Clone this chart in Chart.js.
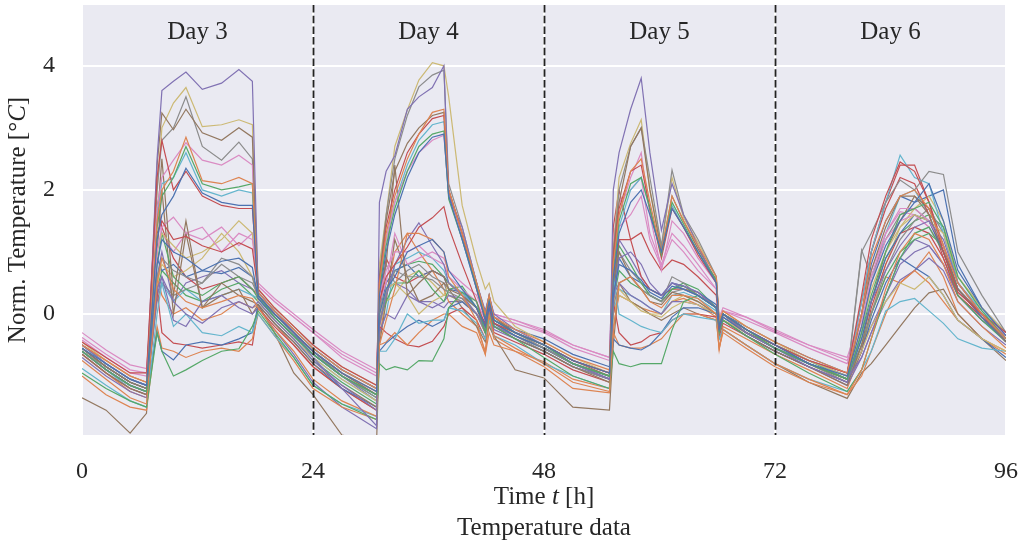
<!DOCTYPE html>
<html>
<head>
<meta charset="utf-8">
<script src="https://cdn.jsdelivr.net/npm/chart.js@4.4.0/dist/chart.umd.min.js"></script>
<style>
  html, body { margin: 0; padding: 0; background: #fff; }
  canvas { display: block; }
</style>
</head>
<body>
<canvas id="tempChart" width="1025" height="547"></canvas>
<script>
// sample times (h) shared by every sensor curve
const hours = [0, 2.5, 5, 6.7, 7.8, 8.3, 9.5, 10.8, 12.5, 14.5, 16.3, 17.7, 18.3, 20, 22, 24, 27, 30.6,
  30.9, 31.6, 32.5, 33.8, 35, 36.4, 37.6, 38.1, 39.5, 41, 41.9, 42.3, 42.8, 45, 48, 51, 54.8,
  55.2, 55.8, 57, 58.1, 59, 60.2, 61.3, 62.5, 64, 65.9, 66.2, 66.6, 69, 72, 75.5, 79.5,
  81, 82, 83.5, 85, 86.5, 88, 89.5, 91, 93.5, 96];

const dayLabels = ['Day 3', 'Day 4', 'Day 5', 'Day 6'];
const dayBreaks = [24, 48, 72];
const xTicks = [0, 24, 48, 72, 96];
const yTicks = [0, 2, 4];

// normalised temperature per sensor, one value per entry of hours
const s00 = [-0.55, -0.8, -1.05, -1.15, 1.2, 1.6, 1.9, 2.35, 1.95, 1.8, 1.75, 1.75, 0.3, 0.0, -0.3, -0.6, -0.95, -1.25,
  0.3, 1.0, 1.6, 2.2, 2.6, 2.85, 2.9, 1.9, 1.2, 0.4, -0.1, 0.2, -0.1, -0.3, -0.5, -0.75, -0.95,
  0.6, 1.3, 1.8, 2.0, 1.6, 1.0, 1.7, 1.4, 1.0, 0.5, -0.2, 0.0, -0.25, -0.5, -0.8, -1.0,
  -0.2, 0.5, 1.1, 1.5, 1.8, 2.1, 1.5, 0.7, 0.1, -0.35];
const s01 = [-0.5, -0.75, -1.0, -1.1, 1.5, 2.0, 2.3, 2.85, 2.15, 2.1, 2.2, 2.1, 0.35, 0.05, -0.25, -0.55, -0.9, -1.2,
  0.5, 1.3, 1.9, 2.5, 2.9, 3.25, 3.3, 2.0, 1.3, 0.5, 0.0, 0.3, -0.05, -0.25, -0.45, -0.7, -0.9,
  0.8, 1.6, 2.3, 2.5, 1.8, 1.0, 1.9, 1.5, 1.1, 0.6, -0.1, 0.05, -0.2, -0.45, -0.7, -0.95,
  0.0, 0.9, 1.5, 1.9, 2.0, 1.7, 1.1, 0.5, 0.0, -0.4];
const s02 = [-0.6, -0.9, -1.15, -1.25, 1.4, 1.9, 2.2, 2.7, 2.1, 2.0, 2.05, 2.1, 0.3, -0.05, -0.35, -0.65, -1.0, -1.3,
  0.4, 1.1, 1.7, 2.3, 2.7, 2.9, 2.95, 1.85, 1.2, 0.45, -0.05, 0.25, -0.1, -0.3, -0.5, -0.8, -1.0,
  0.7, 1.5, 2.1, 2.2, 1.7, 0.95, 1.8, 1.45, 1.0, 0.55, -0.15, 0.0, -0.25, -0.55, -0.8, -1.05,
  -0.3, 0.3, 1.0, 1.6, 1.7, 1.8, 1.4, 0.6, 0.05, -0.4];
const s03 = [-0.45, -0.7, -0.95, -0.95, 2.2, 2.8, 2.0, 2.3, 1.9, 1.75, 1.7, 1.7, 0.4, 0.1, -0.2, -0.5, -0.85, -1.15,
  0.5, 1.4, 2.0, 2.6, 2.9, 3.15, 3.2, 2.0, 1.3, 0.4, -0.1, 0.2, -0.15, -0.3, -0.5, -0.75, -0.95,
  0.9, 1.7, 2.3, 2.4, 1.7, 0.9, 1.7, 1.4, 0.95, 0.5, -0.2, 0.0, -0.25, -0.5, -0.75, -0.95,
  0.3, 1.2, 1.9, 2.45, 2.3, 1.8, 1.0, 0.35, 0.0, -0.3];
const s04 = [-0.5, -0.8, -1.05, -1.15, 2.5, 3.6, 3.75, 3.9, 3.62, 3.72, 3.94, 3.75, 0.35, 0.05, -0.3, -0.7, -1.2, -1.8,
  1.8, 2.3, 2.55, 3.3, 3.5, 3.65, 4.0, 1.9, 1.4, 0.5, 0.05, 0.3, 0.0, -0.25, -0.5, -0.8, -1.05,
  2.0, 2.6, 3.3, 3.8, 2.6, 1.35, 2.1, 1.6, 1.1, 0.5, -0.2, 0.0, -0.3, -0.55, -0.85, -1.1,
  -0.3, 0.2, 0.7, 1.1, 1.4, 1.5, 1.2, 0.5, 0.0, -0.4];
const s05 = [-0.55, -0.85, -1.1, -1.2, 2.4, 3.24, 2.97, 3.3, 2.92, 2.8, 3.0, 2.85, 0.3, 0.0, -0.3, -0.6, -0.95, -1.3,
  0.6, 1.5, 2.3, 2.75, 3.0, 3.2, 3.25, 2.0, 1.3, 0.5, 0.0, 0.3, -0.05, -0.3, -0.5, -0.75, -1.0,
  1.0, 1.8, 2.7, 3.0, 2.0, 1.0, 1.9, 1.5, 1.05, 0.55, -0.15, 0.0, -0.3, -0.5, -0.8, -1.05,
  0.0, 0.7, 1.4, 1.9, 1.9, 1.6, 1.0, 0.4, 0.0, -0.45];
const s06 = [-0.38, -0.65, -0.9, -0.95, 1.7, 2.2, 2.48, 2.76, 2.48, 2.4, 2.56, 2.4, 0.45, 0.2, -0.05, -0.3, -0.65, -0.95,
  0.5, 1.2, 1.8, 2.3, 2.6, 2.8, 2.88, 1.9, 1.25, 0.5, 0.0, 0.25, -0.05, -0.15, -0.3, -0.55, -0.75,
  0.9, 1.6, 2.2, 2.6, 1.6, 0.7, 1.5, 1.3, 0.9, 0.5, -0.1, 0.05, -0.1, -0.3, -0.55, -0.8,
  -0.1, 0.6, 1.3, 1.7, 1.7, 1.5, 1.1, 0.5, 0.0, -0.35];
const s07 = [-0.6, -0.85, -1.1, -1.2, 2.0, 2.8, 3.0, 3.5, 2.7, 2.48, 2.77, 2.5, 0.3, 0.0, -0.3, -0.6, -1.0, -1.3,
  0.6, 1.6, 2.5, 3.2, 3.66, 3.85, 3.93, 2.1, 1.4, 0.5, 0.0, 0.3, -0.05, -0.3, -0.55, -0.8, -1.05,
  1.0, 2.0, 2.7, 3.0, 2.2, 1.1, 2.32, 1.6, 1.2, 0.6, -0.15, 0.0, -0.3, -0.55, -0.8, -1.05,
  1.0, 1.3, 1.8, 2.16, 2.0, 2.3, 2.25, 1.0, 0.3, -0.3];
const s08 = [-0.45, -0.75, -1.0, -1.1, 2.0, 3.0, 3.4, 3.65, 3.02, 3.05, 3.13, 3.05, 0.4, 0.1, -0.2, -0.5, -0.85, -1.15,
  0.8, 1.6, 2.7, 3.29, 3.77, 4.05, 4.0, 3.5, 1.75, 0.85, 0.4, 0.5, 0.2, -0.2, -0.45, -0.7, -0.95,
  1.0, 2.2, 2.75, 3.13, 2.0, 1.08, 2.2, 1.55, 1.15, 0.6, -0.1, 0.05, -0.2, -0.45, -0.75, -1.0,
  -0.2, 0.4, 1.0, 1.4, 1.6, 1.5, 1.3, 0.6, 0.1, -0.3];
const s09 = [-0.5, -0.8, -1.05, -1.15, 1.6, 2.1, 2.2, 2.6, 2.0, 1.9, 2.0, 1.95, 0.35, 0.05, -0.25, -0.55, -0.9, -1.2,
  0.4, 1.2, 1.8, 2.4, 2.8, 3.05, 3.1, 1.95, 1.2, 0.4, -0.05, 0.25, -0.1, -0.3, -0.5, -0.75, -0.95,
  0.7, 1.4, 2.0, 2.2, 1.7, 0.95, 1.75, 1.4, 1.0, 0.5, -0.15, 0.0, -0.25, -0.5, -0.75, -1.0,
  0.2, 1.0, 1.8, 2.56, 2.2, 2.1, 1.3, 0.5, 0.05, -0.3];
const s10 = [-0.55, -0.85, -1.1, -1.2, 0.8, 1.2, 1.0, 0.9, 0.7, 0.85, 0.9, 0.75, 0.25, -0.05, -0.35, -0.65, -1.0, -1.3,
  0.0, 0.4, 0.6, 1.0, 1.1, 1.2, 1.0, 0.7, 0.4, 0.1, -0.2, 0.1, -0.15, -0.35, -0.55, -0.8, -1.0,
  0.3, 0.8, 0.7, 0.55, 0.35, 0.25, 0.45, 0.4, 0.3, 0.1, -0.25, -0.05, -0.3, -0.55, -0.8, -1.05,
  -0.4, 0.2, 0.9, 1.3, 1.6, 1.5, 1.0, 0.4, -0.05, -0.45];
const s11 = [-0.75, -1.05, -1.35, -1.45, 0.5, 0.9, 0.4, 0.2, 0.1, 0.2, 0.3, 0.25, 0.1, -0.25, -0.6, -1.05, -1.4, -1.65,
  -0.5, -0.1, 0.4, 1.3, 1.3, 1.2, 1.0, 0.6, 0.3, -0.1, -0.65, 0.0, -0.35, -0.55, -0.8, -1.1, -1.25,
  -0.3, 0.5, 0.6, 0.4, 0.2, 0.1, 0.3, 0.3, 0.25, 0.0, -0.55, -0.25, -0.5, -0.8, -1.05, -1.3,
  -0.9, -0.4, 0.4, 1.0, 1.3, 1.2, 0.8, 0.2, -0.2, -0.55];
const s12 = [-0.95, -1.2, -1.4, -1.5, -0.3, -0.6, -1.0, -0.9, -0.75, -0.6, -0.56, -0.2, 0.05, -0.3, -0.7, -1.15, -1.45, -1.7,
  -0.8, -0.9, -0.85, -0.9, -0.75, -0.76, -0.4, 0.1, 0.35, 0.2, -0.3, 0.0, -0.2, -0.4, -0.7, -1.0, -1.2,
  -0.6, -0.8, -0.85, -0.8, -0.8, -0.8, -0.26, 0.2, 0.3, 0.1, -0.3, -0.1, -0.35, -0.65, -0.95, -1.25,
  -0.9, -0.4, 0.3, 0.9, 1.3, 1.4, 1.0, 0.3, -0.1, -0.45];
const s13 = [-0.5, -0.75, -1.0, -1.1, 1.3, 1.5, 1.2, 1.25, 1.1, 1.0, 1.15, 1.05, 0.35, 0.05, -0.25, -0.55, -0.9, -1.2,
  0.2, 0.6, 0.8, 1.08, 1.4, 1.55, 1.73, 1.4, 0.8, 0.2, -0.2, 0.1, -0.1, -0.3, -0.5, -0.75, -0.95,
  0.6, 1.2, 1.2, 1.31, 1.0, 0.7, 0.87, 0.8, 0.6, 0.3, -0.2, 0.0, -0.25, -0.5, -0.75, -0.95,
  0.2, 1.0, 1.7, 2.2, 2.1, 1.6, 0.9, 0.3, -0.05, -0.35];
const s14 = [-0.6, -0.9, -1.15, -1.25, 0.4, 0.6, 0.2, 0.0, -0.15, 0.1, 0.2, 0.1, 0.2, -0.1, -0.4, -0.75, -1.15, -1.55,
  -0.2, 0.3, 0.8, 1.2, 1.47, 1.1, 0.8, 0.5, 0.3, 0.0, -0.25, 0.05, -0.2, -0.35, -0.55, -0.8, -1.05,
  0.2, 0.9, 1.0, 0.8, 0.5, 0.3, 0.5, 0.45, 0.35, 0.1, -0.25, -0.05, -0.3, -0.55, -0.8, -1.05,
  -0.7, -0.3, 0.3, 0.8, 1.0, 1.1, 0.8, 0.3, -0.1, -0.4];
const s15 = [-0.65, -0.95, -1.2, -1.3, 1.5, 2.5, 0.3, 1.5, 0.1, 0.5, 0.3, 0.2, 0.15, -0.15, -0.45, -0.8, -1.15, -1.5,
  0.4, 0.8, 2.4, 0.3, 0.5, 0.7, 0.6, 0.4, 0.3, 0.1, -0.3, 0.05, -0.2, -0.4, -0.6, -0.85, -1.1,
  0.5, 1.0, 0.6, 0.4, 0.2, 0.15, 0.35, 0.3, 0.2, 0.0, -0.3, -0.1, -0.35, -0.6, -0.85, -1.15,
  -0.5, 0.2, 1.0, 1.5, 1.9, 1.7, 1.1, 0.4, -0.05, -0.45];
const s16 = [-0.3, -0.58, -0.82, -0.88, 1.0, 1.4, 1.56, 1.3, 1.4, 1.0, 1.3, 1.2, 0.5, 0.25, 0.0, -0.25, -0.6, -0.9,
  0.3, 0.7, 1.0, 1.0, 1.1, 0.9, 0.8, 0.6, 0.4, 0.2, -0.1, 0.2, 0.0, -0.1, -0.28, -0.5, -0.7,
  0.6, 1.4, 1.6, 1.9, 1.2, 0.75, 1.2, 1.0, 0.7, 0.4, -0.05, 0.1, -0.05, -0.28, -0.5, -0.75,
  -0.2, 0.5, 1.2, 1.5, 1.6, 1.4, 1.0, 0.4, 0.0, -0.3];
const s17 = [-0.6, -0.9, -1.15, -1.25, 0.6, 0.9, 0.7, 0.6, 0.5, 0.9, 0.8, 0.6, 0.25, -0.05, -0.35, -0.65, -1.0, -1.35,
  -0.1, 0.3, 0.7, 0.6, 0.6, 0.55, 0.4, 0.35, 0.25, 0.0, -0.3, 0.0, -0.2, -0.35, -0.6, -0.85, -1.05,
  0.1, 0.5, 0.6, 0.4, 0.3, 0.2, 0.35, 0.4, 0.3, 0.1, -0.25, -0.05, -0.3, -0.55, -0.8, -1.1,
  -0.5, 0.0, 0.7, 1.2, 1.5, 1.7, 1.3, 0.5, 0.0, -0.4];
const s18 = [-0.5, -0.8, -1.05, -1.15, 1.0, 1.3, 1.1, 0.9, 1.0, 1.2, 1.5, 1.3, 0.3, 0.0, -0.3, -0.6, -0.95, -1.25,
  0.0, 0.4, 0.5, 0.3, 0.0, 0.2, 0.3, 0.5, 0.3, 0.0, -0.3, 0.05, -0.2, -0.35, -0.55, -0.8, -1.0,
  0.2, 0.4, 0.2, 0.05, 0.0, -0.05, 0.1, 0.2, 0.15, 0.0, -0.3, -0.1, -0.3, -0.55, -0.8, -1.05,
  -0.6, -0.2, 0.2, 0.5, 0.4, 0.6, 0.3, -0.1, -0.4, -0.6];
const s19 = [-0.88, -1.15, -1.4, -1.5, 0.0, 0.5, -0.2, 0.0, -0.3, -0.35, -0.2, -0.3, 0.0, -0.35, -0.7, -1.15, -1.45, -1.65,
  -0.6, -0.6, -0.4, 0.0, -0.15, -0.1, -0.1, 0.1, 0.05, -0.15, -0.4, -0.1, -0.35, -0.5, -0.8, -1.0, -1.2,
  0.6, 0.0, -0.1, -0.2, -0.25, -0.3, -0.1, 0.0, -0.05, -0.1, -0.4, -0.25, -0.5, -0.8, -1.05, -1.25,
  -0.9, -0.6, 0.05, 0.2, 0.25, 0.05, -0.15, -0.4, -0.55, -0.6];
const s20 = [-0.6, -0.9, -1.15, -1.25, -0.3, -0.6, -0.74, -0.5, -0.45, -0.5, -0.4, -0.3, 0.15, -0.15, -0.45, -0.8, -1.2, -1.5,
  -0.6, -0.47, -0.35, -0.2, -0.1, -0.2, -0.1, 0.1, 0.2, 0.0, -0.3, 0.0, -0.2, -0.4, -0.6, -0.85, -1.05,
  -0.4, -0.5, -0.55, -0.58, -0.5, -0.3, -0.05, 0.1, 0.1, 0.0, -0.3, -0.1, -0.35, -0.6, -0.85, -1.1,
  -0.6, -0.1, 0.5, 0.9, 0.75, 0.6, 0.3, -0.1, -0.4, -0.7];
const s21 = [-1.0, -1.3, -1.5, -1.55, -0.2, -0.55, -0.6, -0.7, -0.6, -0.55, -0.6, -0.4, 0.0, -0.35, -0.75, -1.2, -1.5, -1.7,
  -0.5, -0.45, -0.3, -0.5, -0.3, -0.1, 0.0, 0.0, -0.2, -0.3, -0.65, -0.3, -0.5, -0.6, -0.85, -1.2, -1.27,
  -0.3, -0.5, -0.55, -0.55, -0.5, -0.4, -0.2, 0.0, 0.0, -0.1, -0.55, -0.3, -0.55, -0.85, -1.1, -1.3,
  -1.0, -0.6, 0.0, 0.5, 0.7, 0.5, 0.2, -0.1, -0.4, -0.65];
const s22 = [-0.55, -0.85, -1.1, -1.2, 0.8, 1.3, 0.6, 0.4, 0.3, 0.5, 0.6, 0.4, 0.25, -0.05, -0.35, -0.65, -1.0, -1.35,
  -0.1, 0.2, 0.5, 0.5, 0.7, 0.4, 0.2, 0.4, 0.45, 0.1, -0.2, 0.1, -0.15, -0.35, -0.55, -0.8, -1.0,
  0.5, 1.1, 0.8, 0.5, 0.3, 0.2, 0.4, 0.45, 0.3, 0.1, -0.25, 0.0, -0.3, -0.55, -0.8, -1.05,
  -0.5, 0.0, 0.6, 1.0, 1.2, 1.3, 1.1, 0.4, 0.0, -0.4];
const s23 = [-0.65, -0.95, -1.2, -1.3, 0.4, -0.3, -0.47, -0.5, -0.55, -0.5, -0.45, -0.5, 0.1, -0.2, -0.5, -0.85, -1.2, -1.55,
  -0.2, -0.3, -0.4, -0.5, -0.53, -0.44, -0.2, 0.0, 0.1, -0.1, -0.4, -0.05, -0.3, -0.45, -0.65, -0.9, -1.1,
  0.2, -0.3, -0.5, -0.45, -0.35, -0.3, -0.1, 0.0, 0.0, -0.05, -0.35, -0.15, -0.35, -0.6, -0.85, -1.1,
  -0.6, 0.1, 0.8, 1.3, 1.4, 1.3, 0.9, 0.3, -0.05, -0.45];
const s24 = [-0.7, -1.0, -1.25, -1.35, 0.3, 0.6, -0.1, -0.2, 0.2, 0.3, 0.1, 0.0, 0.1, -0.25, -0.65, -1.1, -1.5, -1.85,
  -0.3, 0.0, -0.08, 0.3, 0.2, 0.1, 0.2, 0.3, 0.25, 0.0, -0.3, 0.0, -0.25, -0.4, -0.6, -0.85, -1.05,
  0.3, 0.5, 0.3, 0.2, 0.1, 0.0, 0.2, 0.2, 0.15, 0.0, -0.35, -0.1, -0.35, -0.6, -0.85, -1.15,
  -0.7, -0.3, 0.2, 0.55, 0.7, 0.9, 0.7, 0.2, -0.2, -0.5];
const s25 = [-1.35, -1.55, -1.92, -1.6, 1.0, 2.0, 0.0, 1.3, 0.1, 0.3, 0.4, 0.0, 0.15, -0.3, -0.95, -1.3, -1.95, -2.1,
  -0.5, 0.2, 1.2, 0.6, 0.2, 0.3, 0.5, 0.4, 0.1, -0.2, -0.45, -0.2, -0.35, -0.9, -1.03, -1.5, -1.55,
  -0.5, 0.5, 0.2, 0.1, 0.0, -0.1, 0.0, 0.1, 0.0, -0.1, -0.4, -0.25, -0.5, -0.8, -1.1, -1.36,
  -0.95, -0.8, -0.5, -0.2, 0.1, 0.34, 0.4, 0.0, -0.4, -0.75];
const s26 = [-0.42, -0.7, -0.95, -1.0, 1.6, 1.3, 1.0, 1.3, 1.2, 1.4, 1.1, 1.3, 0.45, 0.2, -0.05, -0.3, -0.7, -1.0,
  0.2, 0.5, 1.3, 0.8, 0.9, 1.0, 0.9, 0.7, 0.5, 0.3, -0.05, 0.25, 0.0, -0.1, -0.25, -0.5, -0.7,
  1.2, 1.8, 2.0, 2.2, 1.3, 0.8, 1.3, 1.1, 0.8, 0.4, -0.1, 0.05, -0.05, -0.25, -0.5, -0.7,
  0.0, 0.7, 1.3, 1.65, 1.6, 1.4, 1.0, 0.4, 0.0, -0.3];
const s27 = [-0.55, -0.85, -1.1, -1.2, 0.2, 0.5, 0.3, 0.4, 0.5, 0.8, 0.6, 0.5, 0.3, 0.0, -0.3, -0.6, -0.95, -1.3,
  0.0, 0.8, 0.5, 0.7, 0.8, 0.6, 0.5, 0.3, 0.2, 0.0, -0.2, 0.1, -0.15, -0.3, -0.5, -0.75, -0.95,
  0.1, 1.0, 0.7, 0.5, 0.3, 0.2, 0.6, 0.5, 0.3, 0.1, -0.2, 0.0, -0.25, -0.5, -0.75, -1.0,
  1.03, 0.6, 1.2, 1.6, 1.7, 1.5, 1.0, 0.4, 0.0, -0.35];
const s28 = [-0.6, -0.9, -1.15, -1.25, 0.5, 0.8, 0.6, 0.7, 0.9, 1.3, 1.0, 0.6, 0.2, -0.1, -0.4, -0.7, -1.05, -1.4,
  -0.2, 0.2, 0.3, 0.6, 0.7, 0.5, 0.3, 0.3, 0.2, 0.0, -0.25, 0.05, -0.2, -0.4, -0.6, -0.85, -1.05,
  0.0, 0.3, 0.2, 0.1, 0.0, 0.0, 0.2, 0.3, 0.2, 0.0, -0.3, -0.1, -0.3, -0.55, -0.8, -1.1,
  -0.6, 0.0, 0.8, 1.4, 1.7, 1.9, 1.5, 0.6, 0.1, -0.3];
const s29 = [-0.6, -0.9, -1.2, -1.3, 0.3, 0.5, 0.2, 0.4, 0.2, 0.3, 0.4, 0.3, 0.25, -0.05, -0.35, -0.7, -1.05, -1.4,
  -0.3, 0.0, 0.8, 0.9, 1.0, 0.9, 0.7, 0.5, 0.35, 0.1, -0.2, 0.1, -0.15, -0.35, -0.55, -0.8, -1.0,
  0.0, 0.4, 0.3, 0.2, 0.1, 0.0, 0.3, 0.35, 0.25, 0.05, -0.3, -0.05, -0.3, -0.55, -0.8, -1.05,
  -0.3, 0.5, 1.3, 1.9, 2.0, 1.6, 1.0, 0.4, 0.0, -0.35];
const s30 = [-0.5, -0.8, -1.05, -1.15, 0.9, 0.7, 0.8, 0.6, 0.7, 0.65, 0.75, 0.6, 0.35, 0.05, -0.25, -0.55, -0.9, -1.2,
  0.0, 0.5, 0.7, 0.8, 0.6, 0.7, 0.6, 0.4, 0.35, 0.1, -0.15, 0.15, -0.1, -0.25, -0.4, -0.65, -0.85,
  0.4, 0.9, 0.6, 0.5, 0.4, 0.3, 0.5, 0.45, 0.35, 0.15, -0.2, 0.0, -0.2, -0.45, -0.7, -0.95,
  0.0, 0.8, 1.5, 1.9, 1.8, 1.9, 2.0, 0.8, 0.1, -0.3];
const s31 = [-0.65, -0.95, -1.25, -1.35, 0.6, 0.3, 0.0, 0.1, -0.1, 0.0, 0.2, 0.1, 0.15, -0.15, -0.5, -0.85, -1.2, -1.55,
  -0.4, 0.3, 1.0, 1.3, 1.0, 0.7, 0.4, 0.2, 0.0, -0.2, -0.6, -0.1, -0.4, -0.6, -0.77, -1.05, -1.2,
  -0.2, 0.3, 0.2, 0.1, 0.05, 0.0, 0.2, 0.25, 0.15, -0.05, -0.58, -0.2, -0.4, -0.65, -0.9, -1.2,
  -0.6, 0.0, 0.6, 0.5, 0.7, 1.0, 0.6, 0.0, -0.4, -0.6];
const s32 = [-0.6, -0.9, -1.15, -1.25, 0.4, 0.7, 0.5, 0.3, 0.2, 0.4, 0.5, 0.3, 0.2, -0.1, -0.4, -0.75, -1.1, -1.45,
  -0.2, 0.4, 0.7, 0.8, 0.85, 0.8, 0.6, 0.5, 0.3, 0.1, -0.2, 0.1, -0.15, -0.35, -0.55, -0.8, -1.0,
  0.2, 0.7, 0.5, 0.4, 0.3, 0.2, 0.4, 0.5, 0.4, 0.1, -0.25, 0.0, -0.25, -0.5, -0.75, -1.05,
  -0.4, 0.2, 0.9, 1.3, 1.5, 1.6, 1.4, 0.5, 0.0, -0.35];
const s33 = [-0.5, -0.8, -1.05, -1.15, 1.8, 1.4, 0.9, 0.6, 0.4, 0.5, 0.6, 0.4, 0.3, 0.0, -0.3, -0.6, -0.95, -1.25,
  0.1, 0.9, 0.6, 0.5, 0.6, 0.7, 0.6, 0.5, 0.3, 0.1, -0.15, 0.15, -0.1, -0.3, -0.5, -0.75, -0.95,
  1.4, 2.0, 1.2, 0.6, 0.4, 0.3, 0.4, 0.4, 0.35, 0.1, -0.2, 0.0, -0.25, -0.5, -0.75, -1.0,
  0.0, 1.0, 1.8, 2.4, 2.4, 1.8, 1.1, 0.4, 0.0, -0.3];
const s34 = [-0.55, -0.85, -1.1, -1.2, 0.6, 1.0, 0.2, 0.5, 0.6, 0.7, 0.5, 0.4, 0.3, 0.0, -0.3, -0.65, -1.0, -1.4,
  0.0, 0.4, 0.5, 0.4, 0.2, 0.2, 0.1, 0.2, 0.2, 0.0, -0.2, 0.1, -0.15, -0.35, -0.55, -0.8, -1.0,
  0.3, 1.2, 0.9, 0.6, 0.4, 0.3, 0.5, 0.4, 0.3, 0.1, -0.25, 0.0, -0.3, -0.55, -0.8, -1.05,
  -0.5, -0.2, 0.3, 0.9, 1.2, 1.1, 0.8, 0.3, -0.1, -0.4];

const sensors = [s00, s01, s02, s03, s04, s05, s06, s07, s08, s09, s10, s11, s12, s13, s14, s15, s16, s17,
  s18, s19, s20, s21, s22, s23, s24, s25, s26, s27, s28, s29, s30, s31, s32, s33, s34];

// seaborn "deep" colour cycle
const palette = ['#4C72B0', '#DD8452', '#55A868', '#C44E52', '#8172B3', '#937860', '#DA8BC3', '#8C8C8C', '#CCB974', '#64B5CD'];

const serif = 'Liberation Serif';
const ink = '#262626';

// draws axes background, day separators, day names and axis titles
const decorations = {
    id: 'decorations',
    beforeDraw(chart) {
        const { ctx, chartArea: a } = chart;
        ctx.save();
        ctx.fillStyle = '#EAEAF2';
        ctx.fillRect(a.left, a.top, a.right - a.left, a.bottom - a.top);
        ctx.restore();
    },
    afterDatasetsDraw(chart) {
        const { ctx, chartArea: a, scales } = chart;
        ctx.save();
        ctx.strokeStyle = '#222222';
        ctx.lineWidth = 1.8;
        ctx.setLineDash([7.5, 3.2]);
        dayBreaks.forEach(function (h) {
            const x = Math.round(scales.x.getPixelForValue(h)) + 0.5;
            ctx.beginPath();
            ctx.moveTo(x, a.top);
            ctx.lineTo(x, a.bottom);
            ctx.stroke();
        });
        ctx.setLineDash([]);
        ctx.fillStyle = ink;
        ctx.font = '25px "' + serif + '"';
        ctx.textAlign = 'center';
        ctx.textBaseline = 'middle';
        dayLabels.forEach(function (label, i) {
            ctx.fillText(label, scales.x.getPixelForValue(i * 24 + 12), 32);
        });
        ctx.restore();
    },
    afterDraw(chart) {
        const { ctx, chartArea: a } = chart;
        const cx = (a.left + a.right) / 2;
        const cy = (a.top + a.bottom) / 2;
        ctx.save();
        ctx.fillStyle = ink;
        ctx.textBaseline = 'middle';
        ctx.textAlign = 'left';

        function drawParts(parts, x, y) {
            let total = 0;
            parts.forEach(function (p) {
                ctx.font = (p.it ? 'italic ' : '') + '25px "' + serif + '"';
                p.w = ctx.measureText(p.t).width;
                total += p.w;
            });
            let px = x - total / 2;
            parts.forEach(function (p) {
                ctx.font = (p.it ? 'italic ' : '') + '25px "' + serif + '"';
                ctx.fillText(p.t, px, y);
                px += p.w;
            });
        }

        drawParts([{ t: 'Time ' }, { t: 't', it: true }, { t: ' [h]' }], cx, 497);
        drawParts([{ t: 'Temperature data' }], cx, 528);

        ctx.translate(18, cy);
        ctx.rotate(-Math.PI / 2);
        drawParts([{ t: 'Norm. Temperature [°' }, { t: 'C', it: true }, { t: ']' }], 0, 0);
        ctx.restore();
    }
};

const datasets = sensors.map(function (vals, i) {
    return {
        data: hours.map(function (h, j) { return { x: h, y: vals[j] }; }),
        borderColor: palette[i % palette.length],
        borderWidth: 1.2,
        pointRadius: 0,
        tension: 0,
        fill: false
    };
});

new Chart(document.getElementById('tempChart').getContext('2d'), {
    type: 'line',
    data: { datasets: datasets },
    options: {
        responsive: false,
        animation: false,
        devicePixelRatio: 1,
        layout: { padding: { left: 0, right: 19, top: 5, bottom: 0 } },
        plugins: { legend: { display: false }, tooltip: { enabled: false } },
        scales: {
            x: {
                type: 'linear',
                min: 0,
                max: 96,
                afterBuildTicks: function (scale) { scale.ticks = xTicks.map(function (v) { return { value: v }; }); },
                afterFit: function (scale) {
                    scale.height = 112;
                    scale.paddingLeft = 0;
                    scale.paddingRight = 0;
                },
                grid: { color: '#ffffff', lineWidth: 2, drawTicks: false },
                border: { display: false },
                ticks: { color: ink, padding: 22, maxRotation: 0, font: { family: serif, size: 24 } }
            },
            y: {
                min: -1.95,
                max: 4.98,
                afterBuildTicks: function (scale) { scale.ticks = yTicks.map(function (v) { return { value: v }; }); },
                afterFit: function (scale) {
                    scale.width = 82;
                    scale.paddingTop = 0;
                    scale.paddingBottom = 0;
                },
                grid: { color: '#ffffff', lineWidth: 2, drawTicks: false },
                border: { display: false },
                ticks: { color: ink, padding: 27, font: { family: serif, size: 24 } }
            }
        }
    },
    plugins: [decorations]
});
</script>
</body>
</html>
